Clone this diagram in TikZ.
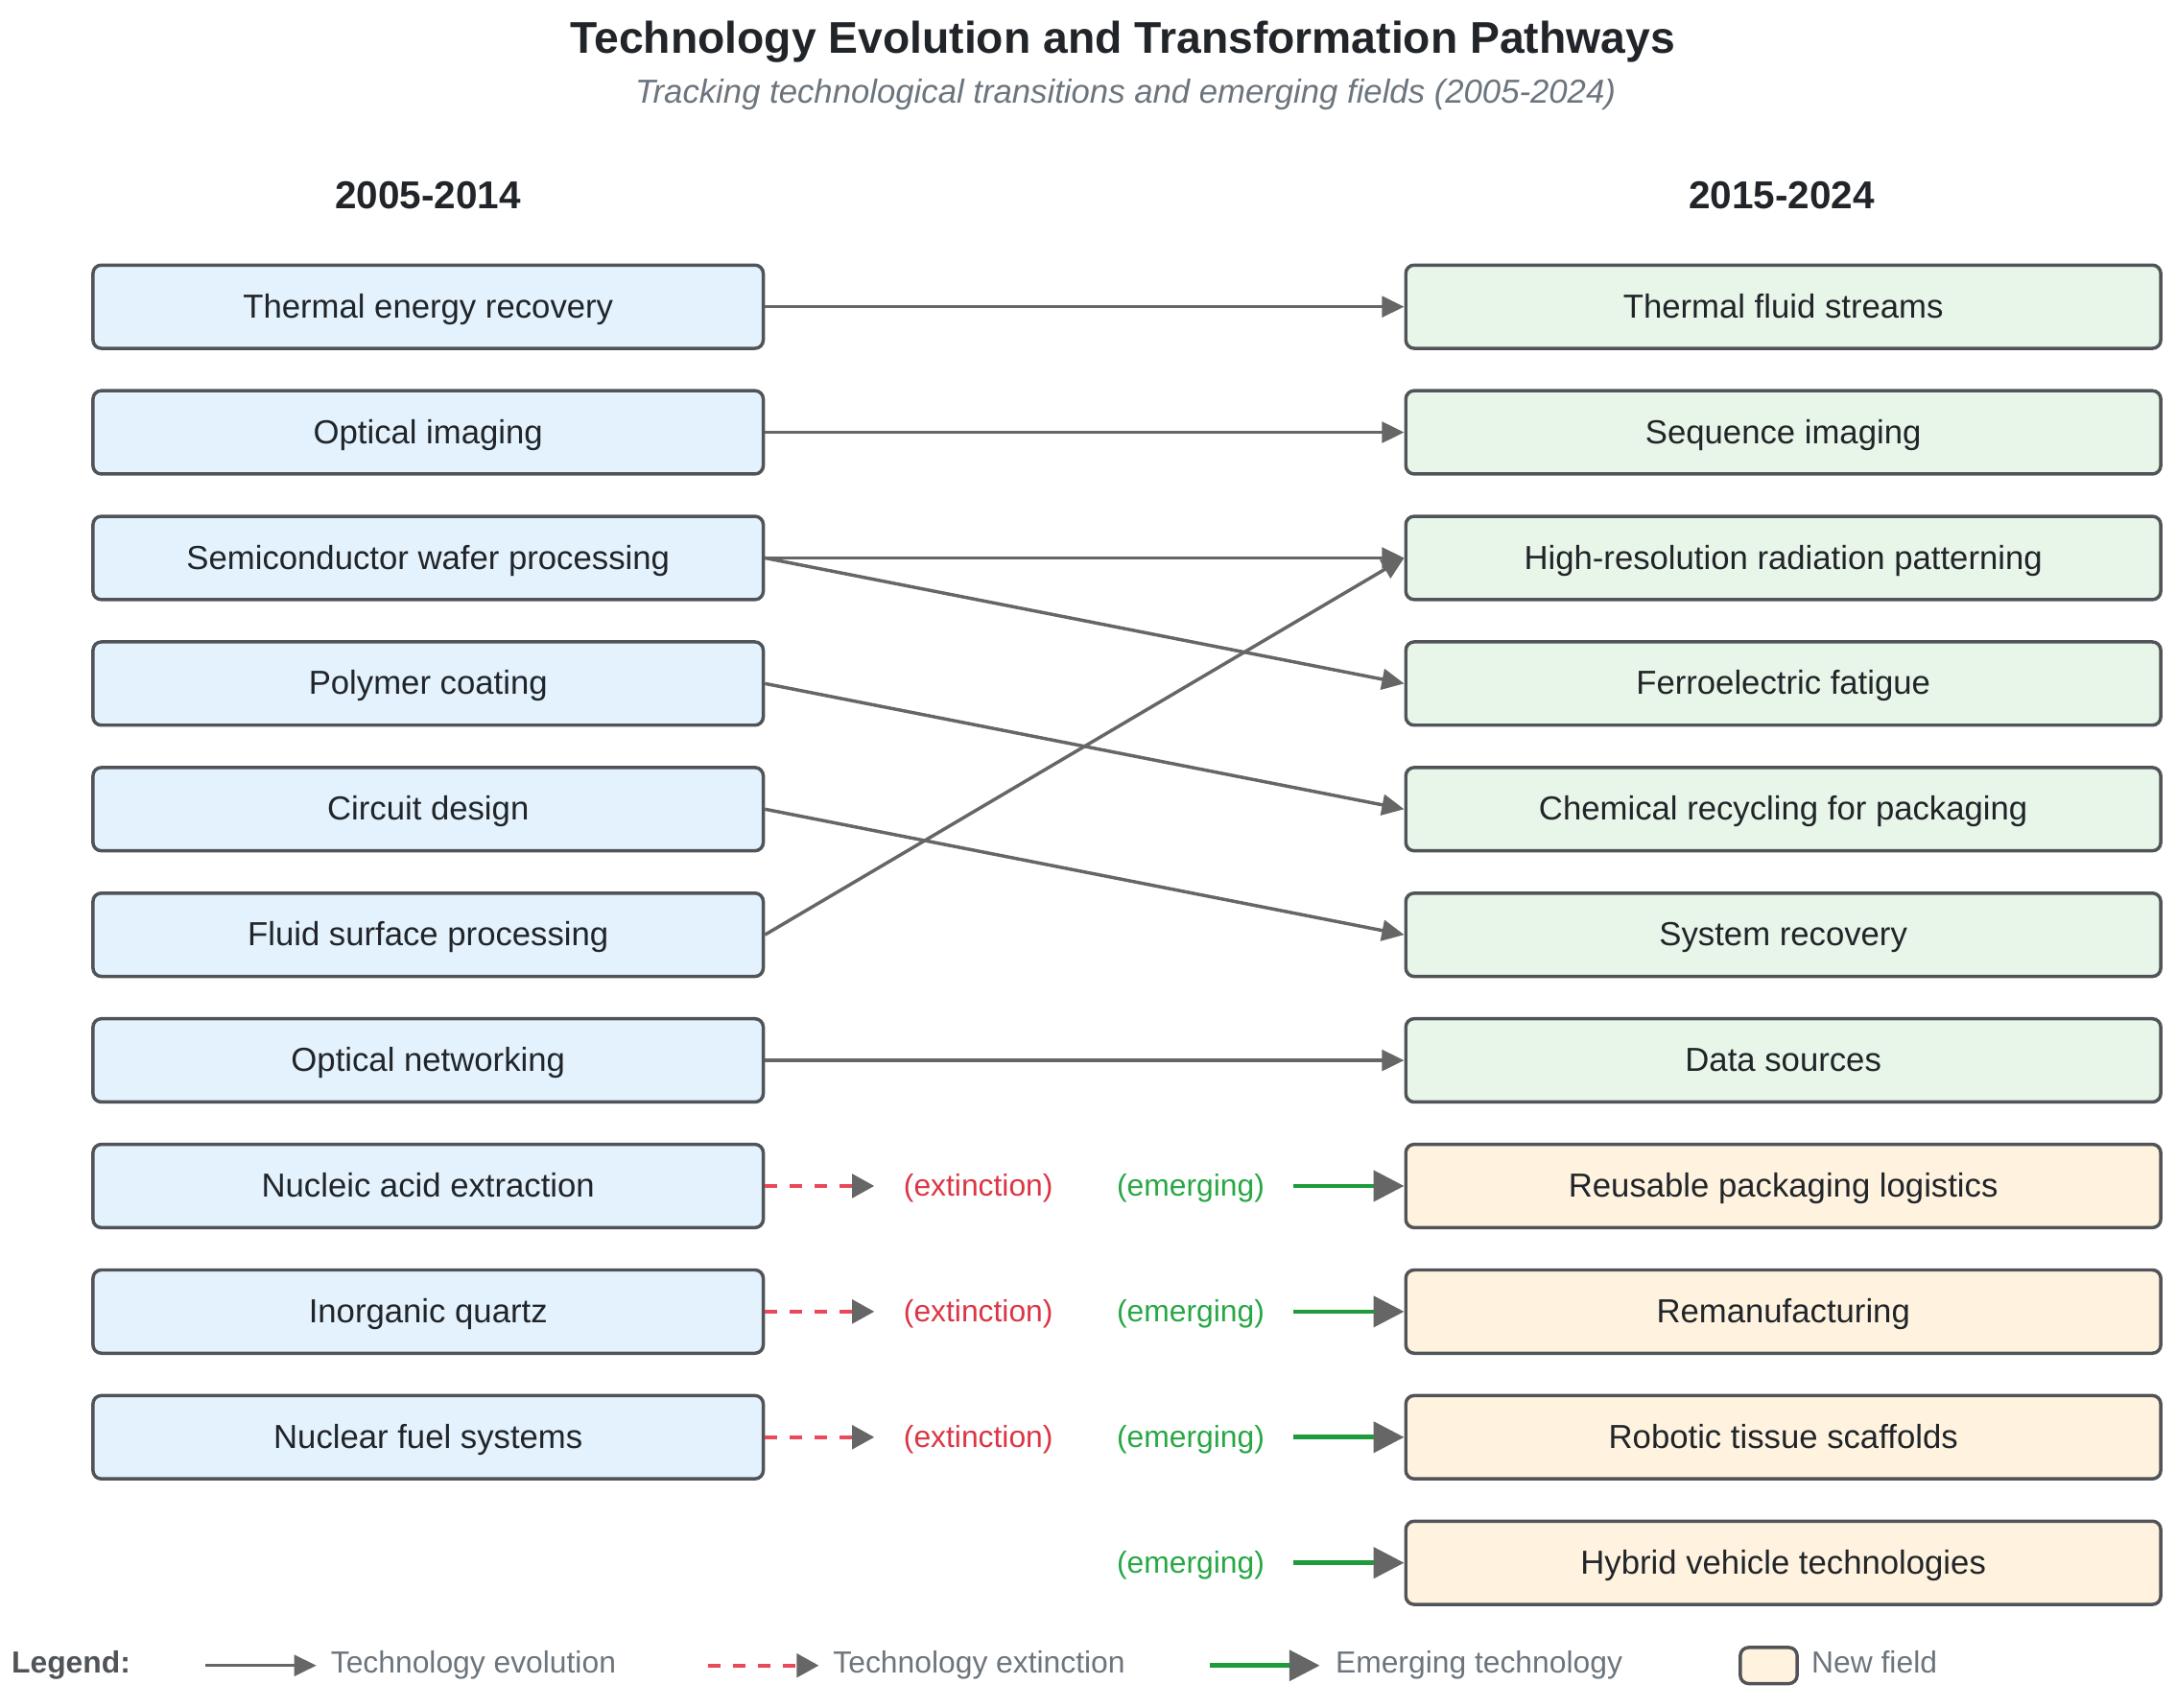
\documentclass[tikz,border=0pt]{standalone}
\usepackage{fontspec}
\setmainfont{Liberation Sans}
\usetikzlibrary{arrows.meta}
\definecolor{boxborder}{HTML}{505458}
\definecolor{oldfill}{HTML}{E3F2FD}
\definecolor{newfill}{HTML}{E8F5E9}
\definecolor{fieldfill}{HTML}{FFF3E0}
\definecolor{arrowgray}{HTML}{666666}
\definecolor{extred}{HTML}{DC3545}
\definecolor{dashred}{HTML}{E8495B}
\definecolor{emgreen}{HTML}{28A745}
\definecolor{linegreen}{HTML}{1E9B3A}
\definecolor{titlecol}{HTML}{212529}
\definecolor{subcol}{HTML}{6C757D}
\begin{document}
\begin{tikzpicture}[x=0.5pt,y=-0.5pt,
 box/.style={draw=boxborder, line width=1.2pt, rounded corners=3pt, minimum height=30pt, inner sep=0pt, text height=10pt, text depth=2pt, font=\fontsize{12}{14}\selectfont, text=titlecol},
 oldbox/.style={box, fill=oldfill, minimum width=241.5pt},
 newbox/.style={box, fill=newfill, minimum width=272pt},
 fieldbox/.style={box, fill=fieldfill, minimum width=272pt},
 evo/.style={draw=arrowgray, line width=1.2pt, -{Triangle[length=8pt,width=7.5pt]}},
 ext/.style={draw=dashred, line width=1.3pt, dash pattern=on 4.5pt off 4.5pt, -{Triangle[length=8pt,width=8.5pt,color=arrowgray,fill=arrowgray]}},
 emg/.style={draw=linegreen, line width=1.6pt, -{Triangle[length=11pt,width=11pt,color=arrowgray,fill=arrowgray]}},
 extlabel/.style={text=extred, font=\fontsize{11}{13}\selectfont, inner sep=0pt, text height=8pt, text depth=2.5pt},
 emglabel/.style={text=emgreen, font=\fontsize{11}{13}\selectfont, inner sep=0pt, text height=8pt, text depth=2.5pt},
 header/.style={text=titlecol, font=\fontsize{14}{16}\bfseries\selectfont},
 legtext/.style={text=subcol, font=\fontsize{11}{13}\selectfont, anchor=west, inner sep=0pt, text height=8pt, text depth=2.5pt},
]
\useasboundingbox (0,0) rectangle (1568,1230);

\node[text=titlecol, font=\fontsize{16}{19}\bfseries\selectfont] (title) at (809,30) {Technology Evolution and Transformation Pathways};
\node[text=subcol, font=\fontsize{12}{14}\itshape\selectfont] (subtitle) at (811,68) {Tracking technological transitions and emerging fields (2005-2024)};

\node[header] (hleft) at (308.5,141) {2005-2014};
\node[header] (hright) at (1284,141) {2015-2024};

% left boxes
\node[oldbox] (l1) at (308.5,221) {Thermal energy recovery};
\node[oldbox] (l2) at (308.5,311.5) {Optical imaging};
\node[oldbox] (l3) at (308.5,402) {Semiconductor wafer processing};
\node[oldbox] (l4) at (308.5,492.5) {Polymer coating};
\node[oldbox] (l5) at (308.5,583) {Circuit design};
\node[oldbox] (l6) at (308.5,673.5) {Fluid surface processing};
\node[oldbox] (l7) at (308.5,764) {Optical networking};
\node[oldbox] (l8) at (308.5,854.5) {Nucleic acid extraction};
\node[oldbox] (l9) at (308.5,945) {Inorganic quartz};
\node[oldbox] (l10) at (308.5,1035.5) {Nuclear fuel systems};

% right boxes
\node[newbox] (r1) at (1285,221) {Thermal fluid streams};
\node[newbox] (r2) at (1285,311.5) {Sequence imaging};
\node[newbox] (r3) at (1285,402) {High-resolution radiation patterning};
\node[newbox] (r4) at (1285,492.5) {Ferroelectric fatigue};
\node[newbox] (r5) at (1285,583) {Chemical recycling for packaging};
\node[newbox] (r6) at (1285,673.5) {System recovery};
\node[newbox] (r7) at (1285,764) {Data sources};
\node[fieldbox] (r8) at (1285,854.5) {Reusable packaging logistics};
\node[fieldbox] (r9) at (1285,945) {Remanufacturing};
\node[fieldbox] (r10) at (1285,1035.5) {Robotic tissue scaffolds};
\node[fieldbox] (r11) at (1285,1126) {Hybrid vehicle technologies};

% evolution arrows
\draw[evo] (l1.east) -- (r1.west);
\draw[evo] (l2.east) -- (r2.west);
\draw[evo] (l3.east) -- (r3.west);
\draw[evo] (l3.east) -- (r4.west);
\draw[evo] (l4.east) -- (r5.west);
\draw[evo] (l5.east) -- (r6.west);
\draw[evo] (l6.east) -- (r3.west);
\draw[evo] (l7.east) -- (r7.west);

% extinction
\coordinate (x8) at (630,854.5);
\coordinate (x9) at (630,945);
\coordinate (x10) at (630,1035.5);
\draw[ext] (l8.east) -- (x8);
\draw[ext] (l9.east) -- (x9);
\draw[ext] (l10.east) -- (x10);
\node[extlabel] (xl8) at (705,856.5) {(extinction)};
\node[extlabel] (xl9) at (705,947) {(extinction)};
\node[extlabel] (xl10) at (705,1037.5) {(extinction)};

% emerging
\node[emglabel] (el8) at (858,856.5) {(emerging)};
\node[emglabel] (el9) at (858,947) {(emerging)};
\node[emglabel] (el10) at (858,1037.5) {(emerging)};
\node[emglabel] (el11) at (858,1128) {(emerging)};
\coordinate (e8) at (932,854.5);
\coordinate (e9) at (932,945);
\coordinate (e10) at (932,1035.5);
\coordinate (e11) at (932,1126);
\draw[emg] (e8) -- (r8.west);
\draw[emg] (e9) -- (r9.west);
\draw[emg] (e10) -- (r10.west);
\draw[emg] (e11) -- (r11.west);

% legend
\node[text=boxborder, font=\fontsize{11}{13}\bfseries\selectfont, anchor=west, inner sep=0pt, text height=8pt, text depth=2.5pt] (leg) at (8,1200) {Legend:};
\coordinate (la1) at (148,1200);
\coordinate (la2) at (228,1200);
\draw[evo] (la1) -- (la2);
\node[legtext] (lt1) at (238,1200) {Technology evolution};
\coordinate (lb1) at (510,1200);
\coordinate (lb2) at (590,1200);
\draw[ext] (lb1) -- (lb2);
\node[legtext] (lt2) at (600,1200) {Technology extinction};
\coordinate (lc1) at (872,1200);
\coordinate (lc2) at (951,1200);
\draw[emg] (lc1) -- (lc2);
\node[legtext] (lt3) at (962,1200) {Emerging technology};
\node[draw=boxborder, line width=1.2pt, rounded corners=3pt, fill=fieldfill, minimum width=20.5pt, minimum height=13pt, inner sep=0pt] (lbox) at (1274.5,1200) {};
\node[legtext] (lt4) at (1305,1200) {New field};
\end{tikzpicture}
\end{document}
